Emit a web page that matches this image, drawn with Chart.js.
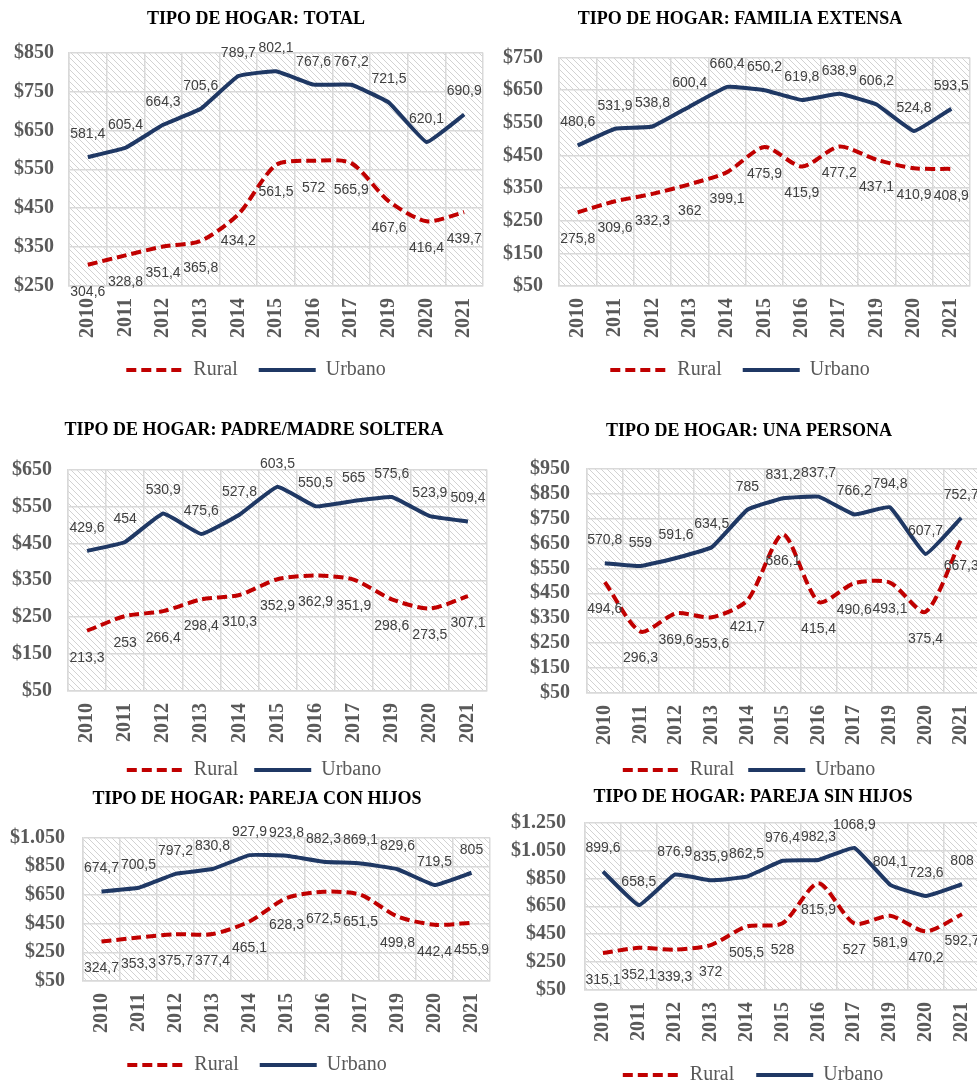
<!DOCTYPE html>
<html lang="es">
<head>
<meta charset="utf-8">
<title>Tipo de hogar</title>
<script src="https://cdn.jsdelivr.net/npm/chart.js@4.4.1/dist/chart.umd.min.js"></script>
<style>
  html, body { margin: 0; padding: 0; background: #fff; overflow: hidden; width: 977px; height: 1084px; }
  canvas { position: absolute; }
</style>
</head>
<body>
<canvas id="c-total"></canvas>
<canvas id="c-extensa"></canvas>
<canvas id="c-soltera"></canvas>
<canvas id="c-persona"></canvas>
<canvas id="c-conhijos"></canvas>
<canvas id="c-sinhijos"></canvas>
<script>
const years = ["2010", "2011", "2012", "2013", "2014", "2015", "2016", "2017", "2019", "2020", "2021"];

const totalUrbano = [581.4, 605.4, 664.3, 705.6, 789.7, 802.1, 767.6, 767.2, 721.5, 620.1, 690.9];
const totalRural = [304.6, 328.8, 351.4, 365.8, 434.2, 561.5, 572, 565.9, 467.6, 416.4, 439.7];
const totalTicks = [250, 350, 450, 550, 650, 750, 850];

const extensaUrbano = [480.6, 531.9, 538.8, 600.4, 660.4, 650.2, 619.8, 638.9, 606.2, 524.8, 593.5];
const extensaRural = [275.8, 309.6, 332.3, 362, 399.1, 475.9, 415.9, 477.2, 437.1, 410.9, 408.9];
const extensaTicks = [50, 150, 250, 350, 450, 550, 650, 750];

const solteraUrbano = [429.6, 454, 530.9, 475.6, 527.8, 603.5, 550.5, 565, 575.6, 523.9, 509.4];
const solteraRural = [213.3, 253, 266.4, 298.4, 310.3, 352.9, 362.9, 351.9, 298.6, 273.5, 307.1];
const solteraTicks = [50, 150, 250, 350, 450, 550, 650];

const personaUrbano = [570.8, 559, 591.6, 634.5, 785, 831.2, 837.7, 766.2, 794.8, 607.7, 752.7];
const personaRural = [494.6, 296.3, 369.6, 353.6, 421.7, 686.1, 415.4, 490.6, 493.1, 375.4, 667.3];
const personaTicks = [50, 150, 250, 350, 450, 550, 650, 750, 850, 950];

const conHijosUrbano = [674.7, 700.5, 797.2, 830.8, 927.9, 923.8, 882.3, 869.1, 829.6, 719.5, 805];
const conHijosRural = [324.7, 353.3, 375.7, 377.4, 465.1, 628.3, 672.5, 651.5, 499.8, 442.4, 455.9];
const conHijosTicks = [50, 250, 450, 650, 850, 1050];

const sinHijosUrbano = [899.6, 658.5, 876.9, 835.9, 862.5, 976.4, 982.3, 1068.9, 804.1, 723.6, 808];
const sinHijosRural = [315.1, 352.1, 339.3, 372, 505.5, 528, 815.9, 527, 581.9, 470.2, 592.7];
const sinHijosTicks = [50, 250, 450, 650, 850, 1050, 1250];

// canvas boxes, tuned against the reference picture
const panels = [
  { id: "c-total", title: "TIPO DE HOGAR: TOTAL", rural: totalRural, urbano: totalUrbano, ticks: totalTicks,
    left: 0, top: 0, width: 512, height: 390, yWidth: 69, yPad: 15, rightGap: 29, titleBottom: 22, legendPad: 21 },
  { id: "c-extensa", title: "TIPO DE HOGAR: FAMILIA EXTENSA", rural: extensaRural, urbano: extensaUrbano, ticks: extensaTicks,
    left: 490, top: 0, width: 500, height: 390, yWidth: 69, yPad: 16, rightGap: 20, titleBottom: 27, legendPad: 21 },
  { id: "c-soltera", title: "TIPO DE HOGAR: PADRE/MADRE SOLTERA", rural: solteraRural, urbano: solteraUrbano, ticks: solteraTicks,
    left: 0, top: 411, width: 508, height: 379, yWidth: 68, yPad: 16, rightGap: 21, titleBottom: 28, legendPad: 16 },
  { id: "c-persona", title: "TIPO DE HOGAR: UNA PERSONA", rural: personaRural, urbano: personaUrbano, ticks: personaTicks,
    left: 490, top: 412, width: 518, height: 378, yWidth: 97, yPad: 17, rightGap: 29, titleBottom: 26, legendPad: 14 },
  { id: "c-conhijos", title: "TIPO DE HOGAR: PAREJA CON HIJOS", rural: conHijosRural, urbano: conHijosUrbano, ticks: conHijosTicks,
    left: 0, top: 780, width: 514, height: 305, yWidth: 83, yPad: 18, rightGap: 24, titleBottom: 27, legendPad: 21 },
  { id: "c-sinhijos", title: "TIPO DE HOGAR: PAREJA SIN HIJOS", rural: sinHijosRural, urbano: sinHijosUrbano, ticks: sinHijosTicks,
    left: 490, top: 778, width: 526, height: 317, yWidth: 95, yPad: 19, rightGap: 36, titleBottom: 14, legendPad: 22 },
];

const serif = "'Liberation Serif', 'Times New Roman', serif";
const axisGray = "#595959";
const gridGray = "#d9d9d9";
const xAxisHeight = 53;

const fmtValue = (v) => String(v).replace(".", ",");
const fmtMoney = (v) => "$" + String(v).replace(/\B(?=(\d{3})+(?!\d))/g, ".");

const makeHatch = () => {
  const s = 6;
  const tile = document.createElement("canvas");
  tile.width = s;
  tile.height = s;
  const t = tile.getContext("2d");
  t.fillStyle = "#ffffff";
  t.fillRect(0, 0, s, s);
  t.strokeStyle = "#d2d2d2";
  t.lineWidth = 1;
  t.beginPath();
  t.moveTo(0, 0); t.lineTo(s, s);
  t.moveTo(-1, s - 1); t.lineTo(1, s + 1);
  t.moveTo(s - 1, -1); t.lineTo(s + 1, 1);
  t.stroke();
  return tile;
};
const hatchTile = makeHatch();

const hatchBackground = {
  id: "hatchBackground",
  beforeDraw(chart) {
    const { ctx, chartArea: a } = chart;
    ctx.save();
    ctx.fillStyle = ctx.createPattern(hatchTile, "repeat");
    ctx.fillRect(a.left, a.top, a.right - a.left, a.bottom - a.top);
    ctx.restore();
  },
};

const valueLabels = {
  id: "valueLabels",
  afterDatasetsDraw(chart) {
    const ctx = chart.ctx;
    ctx.save();
    ctx.font = "14px 'Liberation Sans', Arial, sans-serif";
    ctx.fillStyle = "#404040";
    ctx.textAlign = "center";
    ctx.textBaseline = "middle";
    chart.data.datasets.forEach((ds, i) => {
      const meta = chart.getDatasetMeta(i);
      meta.data.forEach((pt, j) => {
        ctx.fillText(fmtValue(ds.data[j]), pt.x, pt.y + ds.labelShift);
      });
    });
    ctx.restore();
  },
};

// legend swatches as line segments carrying the dataset dash
const lineLegendLabels = (chart) => {
  const items = Chart.defaults.plugins.legend.labels.generateLabels(chart);
  items.forEach((it) => {
    const ds = chart.data.datasets[it.datasetIndex];
    it.lineDash = ds.borderDash || [];
    it.lineWidth = ds.borderWidth;
    it.strokeStyle = ds.borderColor;
    it.pointStyle = "line";
  });
  return items;
};

panels.forEach((p) => {
  const canvas = document.getElementById(p.id);
  canvas.width = p.width;
  canvas.height = p.height;
  canvas.style.left = p.left + "px";
  canvas.style.top = p.top + "px";

  new Chart(canvas.getContext("2d"), {
    type: "line",
    data: {
      labels: years,
      datasets: [
        {
          label: "Rural",
          data: p.rural,
          yAxisID: "y",
          borderColor: "#c00000",
          backgroundColor: "#c00000",
          borderWidth: 4,
          borderDash: [10, 5],
          tension: 0.25,
          pointRadius: 0,
          labelShift: 27,
        },
        {
          label: "Urbano",
          data: p.urbano,
          yAxisID: "y",
          borderColor: "#1f3864",
          backgroundColor: "#1f3864",
          borderWidth: 4,
          tension: 0.1,
          pointRadius: 0,
          labelShift: -23,
        },
      ],
    },
    options: {
      responsive: false,
      animation: false,
      events: [],
      layout: { padding: 0 },
      plugins: {
        title: {
          display: true,
          text: p.title,
          color: "#000",
          font: { family: serif, size: 18, weight: "bold" },
          padding: { top: 9, bottom: p.titleBottom },
        },
        legend: {
          position: "bottom",
          labels: {
            usePointStyle: true,
            pointStyle: "line",
            pointStyleWidth: 57,
            generateLabels: lineLegendLabels,
            color: axisGray,
            font: { family: serif, size: 20 },
            padding: p.legendPad,
          },
        },
        tooltip: { enabled: false },
      },
      scales: {
        x: {
          type: "category",
          offset: true,
          grid: { offset: true, color: gridGray, lineWidth: 1.5, drawTicks: false },
          border: { color: gridGray, width: 1.5 },
          ticks: {
            autoSkip: false,
            minRotation: 90,
            maxRotation: 90,
            padding: 12,
            color: axisGray,
            font: { family: serif, size: 20, weight: "bold" },
          },
          afterFit: (s) => { s.height = xAxisHeight; },
        },
        y: {
          position: "left",
          min: p.ticks[0],
          max: p.ticks[p.ticks.length - 1],
          afterBuildTicks: (s) => { s.ticks = p.ticks.map((v) => ({ value: v })); },
          grid: { color: gridGray, lineWidth: 1.5, drawTicks: false },
          border: { color: gridGray, width: 1.5 },
          ticks: {
            autoSkip: false,
            padding: p.yPad,
            color: axisGray,
            font: { family: serif, size: 20, weight: "bold" },
            callback: (v) => fmtMoney(v),
          },
          afterFit: (s) => { s.width = p.yWidth; },
        },
        yR: {
          position: "right",
          grid: { display: false },
          border: { display: false },
          ticks: { display: false },
          afterFit: (s) => { s.width = p.rightGap; },
        },
      },
    },
    plugins: [hatchBackground, valueLabels],
  });
});
</script>
</body>
</html>
